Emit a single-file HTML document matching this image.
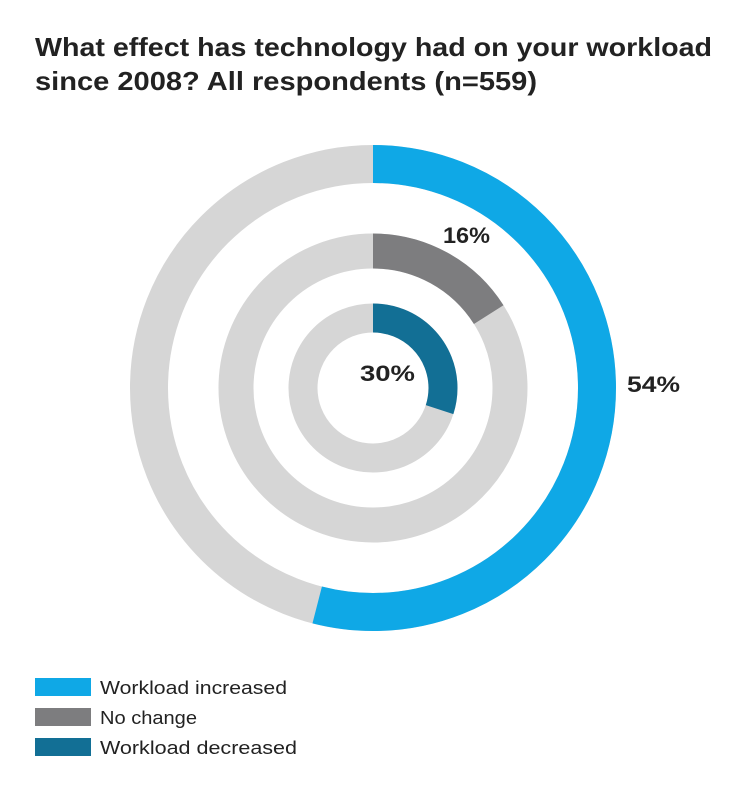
<!DOCTYPE html>
<html><head><style>body{margin:0;background:#fff}</style></head><body>
<svg width="740" height="788" xmlns="http://www.w3.org/2000/svg" font-family="Liberation Sans, sans-serif">
<rect width="740" height="788" fill="#fff"/>
<text x="35" y="56" font-size="26" font-weight="bold" fill="#222" textLength="677" lengthAdjust="spacingAndGlyphs">What effect has technology had on your workload</text>
<text x="35" y="90" font-size="26" font-weight="bold" fill="#222" textLength="502" lengthAdjust="spacingAndGlyphs">since 2008? All respondents (n=559)</text>
<g fill="none">
<circle cx="373" cy="388" r="224" stroke="#d6d6d6" stroke-width="38"/>
<circle cx="373" cy="388" r="224" stroke="#0fa8e6" stroke-width="38" stroke-dasharray="760.0 2000" transform="rotate(-90 373 388)"/>
<circle cx="373" cy="388" r="137" stroke="#d6d6d6" stroke-width="35"/>
<circle cx="373" cy="388" r="137" stroke="#7d7d7f" stroke-width="35" stroke-dasharray="137.7 2000" transform="rotate(-90 373 388)"/>
<circle cx="373" cy="388" r="70" stroke="#d6d6d6" stroke-width="29"/>
<circle cx="373" cy="388" r="70" stroke="#126f95" stroke-width="29" stroke-dasharray="131.9 2000" transform="rotate(-90 373 388)"/>
</g>
<g font-size="22" fill="#222" font-weight="bold" lengthAdjust="spacingAndGlyphs">
<text x="443" y="243" textLength="47" lengthAdjust="spacingAndGlyphs">16%</text>
<text x="627" y="392" textLength="53" lengthAdjust="spacingAndGlyphs">54%</text>
<text x="360" y="381" textLength="55" lengthAdjust="spacingAndGlyphs">30%</text>
</g>
<rect x="35" y="678" width="56" height="18" fill="#0fa8e6"/>
<rect x="35" y="708" width="56" height="18" fill="#7d7d7f"/>
<rect x="35" y="738" width="56" height="18" fill="#126f95"/>
<g font-size="18" fill="#222">
<text x="100" y="694" textLength="187" lengthAdjust="spacingAndGlyphs">Workload increased</text>
<text x="100" y="724" textLength="97" lengthAdjust="spacingAndGlyphs">No change</text>
<text x="100" y="754" textLength="197" lengthAdjust="spacingAndGlyphs">Workload decreased</text>
</g>
</svg>
</body></html>
